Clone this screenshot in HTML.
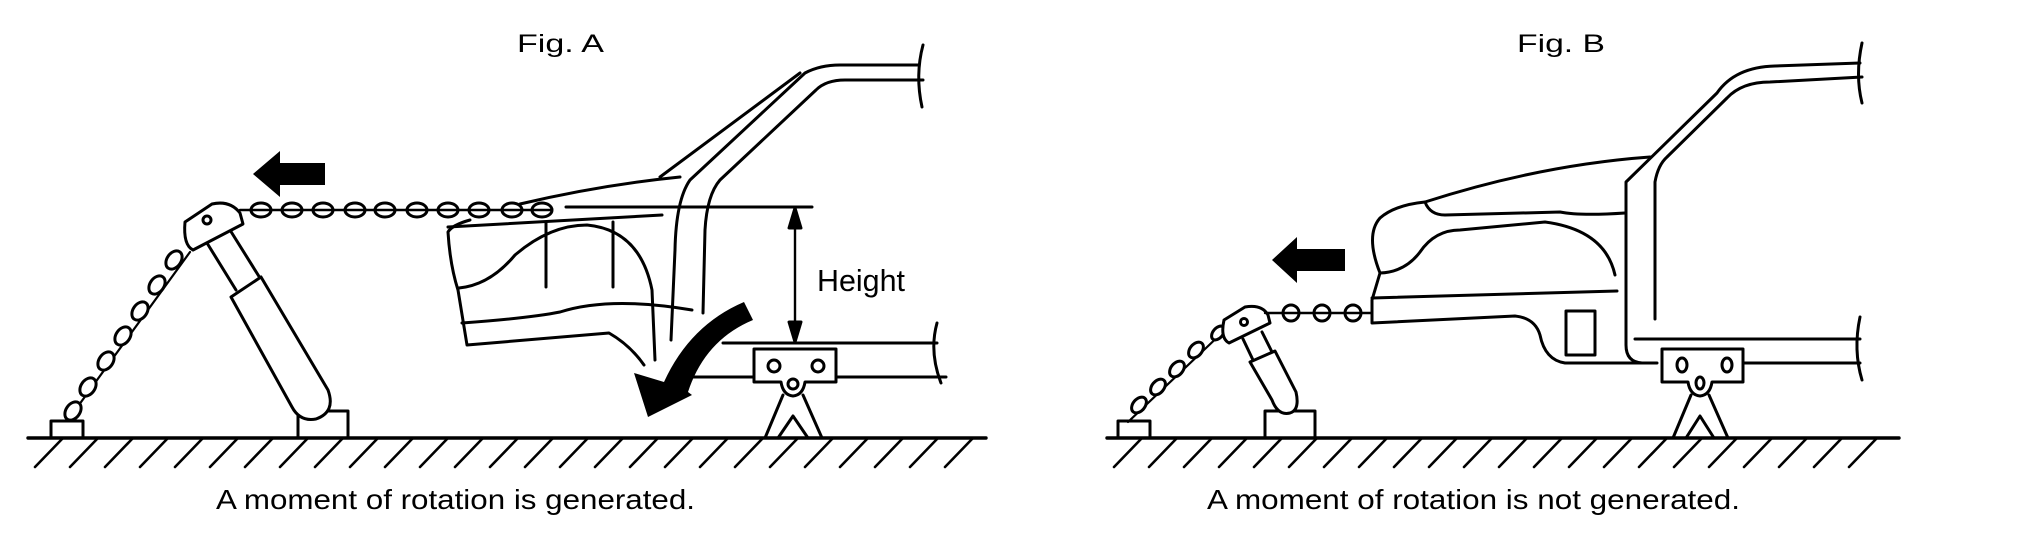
<!DOCTYPE html>
<html><head><meta charset="utf-8"><style>
html,body{margin:0;padding:0;background:#fff;width:2020px;height:544px;overflow:hidden}
svg{display:block}
text{font-family:"Liberation Sans",sans-serif;fill:#000}
</style></head><body>
<svg width="2020" height="544" viewBox="0 0 2020 544" xmlns="http://www.w3.org/2000/svg">
<g fill="none" stroke="#000" stroke-width="3" stroke-linejoin="round" stroke-linecap="round">
<!-- ===== Fig A ===== -->
<line x1="28" y1="438" x2="986" y2="438" stroke-width="3.4"/>
<g stroke-width="2.6">
<path d="M35 467 L63 438 M70 467 L98 438 M105 467 L133 438 M140 467 L168 438 M175 467 L203 438 M210 467 L238 438 M245 467 L273 438 M280 467 L308 438 M315 467 L343 438 M350 467 L378 438 M385 467 L413 438 M420 467 L448 438 M455 467 L483 438 M490 467 L518 438 M525 467 L553 438 M560 467 L588 438 M595 467 L623 438 M630 467 L658 438 M665 467 L693 438 M700 467 L728 438 M735 467 L763 438 M770 467 L798 438 M805 467 L833 438 M840 467 L868 438 M875 467 L903 438 M910 467 L938 438 M945 467 L973 438"/>
</g>
<rect x="51" y="421" width="32" height="17"/>
<rect x="298" y="411" width="50" height="27"/>
<line x1="68" y1="420" x2="190" y2="252" stroke-width="2.2"/>
<g fill="#fff">
<ellipse cx="73" cy="411" rx="7" ry="10" transform="rotate(35 73 411)"/>
<ellipse cx="88" cy="387" rx="7" ry="10" transform="rotate(35 88 387)"/>
<ellipse cx="106" cy="361" rx="7" ry="10" transform="rotate(35 106 361)"/>
<ellipse cx="123" cy="336" rx="7" ry="10" transform="rotate(35 123 336)"/>
<ellipse cx="140" cy="311" rx="7" ry="10" transform="rotate(35 140 311)"/>
<ellipse cx="157" cy="285" rx="7" ry="10" transform="rotate(35 157 285)"/>
<ellipse cx="174" cy="260" rx="7" ry="10" transform="rotate(35 174 260)"/>
</g>
<path d="M207 243 L236 290 M230 230 L260 278"/>
<path d="M231 297 L261 277 L328 390 Q336 412 316 419 Q300 422 292 407 L231 297 Z" fill="#fff"/>
<path d="M185 222 L212 204 Q230 200 240 213 L243 224 L193 250 Q183 245 185 222 Z" fill="#fff"/>
<circle cx="207" cy="220" r="4"/>
<line x1="240" y1="210" x2="552" y2="210" stroke-width="2.4"/>
<g fill="none">
<ellipse cx="261" cy="210" rx="10" ry="7"/><ellipse cx="292" cy="210" rx="10" ry="7"/>
<ellipse cx="323" cy="210" rx="10" ry="7"/><ellipse cx="355" cy="210" rx="10" ry="7"/>
<ellipse cx="385" cy="210" rx="10" ry="7"/><ellipse cx="417" cy="210" rx="10" ry="7"/>
<ellipse cx="448" cy="210" rx="10" ry="7"/><ellipse cx="479" cy="210" rx="10" ry="7"/>
<ellipse cx="512" cy="210" rx="10" ry="7"/><ellipse cx="542" cy="210" rx="10" ry="7"/>
</g>
<path d="M253 174 L280 151 L280 163 L325 163 L325 185 L280 185 L280 197 Z" fill="#000" stroke="none"/>
<!-- car A -->
<path d="M520 204 Q600 185 680 177"/>
<path d="M660 177 L800 73"/>
<path d="M448 227 L662 215"/>
<path d="M470 220 Q452 225 448 232 Q450 265 458 290 L467 345 L609 333 Q630 345 644 365"/>
<path d="M546 222 L546 287 M613 222 L613 287"/>
<path d="M459 288 Q490 285 515 255 Q550 225 587 225 Q640 230 652 290 L655 360"/>
<path d="M462 323 Q530 318 560 312 Q610 296 692 310"/>
<path d="M671 340 L675 250 Q676 200 690 180 L805 73 Q820 65 840 65 L919 65"/>
<path d="M703 313 L705 230 Q707 195 720 180 L816 90 Q826 80 845 80 L923 80"/>
<path d="M923 45 Q915 75 922 107"/>
<line x1="566" y1="207" x2="812" y2="207"/>
<line x1="795" y1="214" x2="795" y2="336" stroke-width="2.4"/>
<path d="M795 208 L789 228 L801 228 Z M795 342 L789 322 L801 322 Z" fill="#000"/>
<text x="817" y="291" font-size="31" stroke="none" textLength="88" lengthAdjust="spacingAndGlyphs">Height</text>
<line x1="723" y1="343" x2="937" y2="343"/>
<line x1="692" y1="377" x2="946" y2="377"/>
<path d="M937 323 Q929 352 941 383"/>
<path d="M744 302 L753 320 Q705 340 688 392 L692 395 L648 417 L634 373 L664 382 Q690 325 744 302 Z" fill="#000" stroke="none"/>
<path d="M783 395 L765 438 M803 395 L822 438 M778 438 L793 416 L808 438"/>
<path d="M754 349 L836 349 L836 382 L805 382 Q803 395 793 396 Q783 395 781 382 L754 382 Z" fill="#fff"/>
<circle cx="774" cy="366" r="6"/><circle cx="818" cy="366" r="6"/><circle cx="793" cy="384" r="5"/>
<!-- ===== Fig B ===== -->
<line x1="1107" y1="438" x2="1899" y2="438" stroke-width="3.4"/>
<g stroke-width="2.6">
<path d="M1114 467 L1142 438 M1149 467 L1177 438 M1184 467 L1212 438 M1219 467 L1247 438 M1254 467 L1282 438 M1289 467 L1317 438 M1324 467 L1352 438 M1359 467 L1387 438 M1394 467 L1422 438 M1429 467 L1457 438 M1464 467 L1492 438 M1499 467 L1527 438 M1534 467 L1562 438 M1569 467 L1597 438 M1604 467 L1632 438 M1639 467 L1667 438 M1674 467 L1702 438 M1709 467 L1737 438 M1744 467 L1772 438 M1779 467 L1807 438 M1814 467 L1842 438 M1849 467 L1877 438"/>
</g>
<rect x="1118" y="421" width="32" height="17"/>
<rect x="1265" y="411" width="50" height="27"/>
<line x1="1128" y1="422" x2="1225" y2="330" stroke-width="2.2"/>
<g fill="#fff">
<ellipse cx="1139" cy="405" rx="6" ry="9" transform="rotate(40 1139 405)"/>
<ellipse cx="1158" cy="387" rx="6" ry="9" transform="rotate(40 1158 387)"/>
<ellipse cx="1177" cy="369" rx="6" ry="9" transform="rotate(40 1177 369)"/>
<ellipse cx="1196" cy="350" rx="6" ry="9" transform="rotate(40 1196 350)"/>
<ellipse cx="1218" cy="333" rx="5" ry="8" transform="rotate(40 1218 333)"/>
</g>
<path d="M1243 339 L1253 360 M1262 332 L1272 352"/>
<path d="M1250 362 L1275 351 L1296 392 Q1300 410 1290 413 Q1278 416 1272 400 Z" fill="#fff"/>
<path d="M1224 320 L1245 307 Q1262 304 1268 315 L1270 323 L1229 343 Q1220 338 1224 320 Z" fill="#fff"/>
<circle cx="1244" cy="322" r="3.5"/>
<line x1="1265" y1="313" x2="1372" y2="313" stroke-width="2.4"/>
<circle cx="1291" cy="313" r="8"/><circle cx="1322" cy="313" r="8"/><circle cx="1353" cy="313" r="8"/>
<path d="M1272 260 L1297 237 L1297 249 L1345 249 L1345 271 L1297 271 L1297 283 Z" fill="#000" stroke="none"/>
<path d="M1380 273 Q1365 235 1380 218 Q1395 205 1425 202 Q1540 165 1650 157"/>
<path d="M1380 273 L1372 300 L1372 323 L1515 316 Q1535 318 1540 335 Q1545 360 1565 363 L1657 363"/>
<path d="M1372 298 L1617 291"/>
<path d="M1425 202 Q1430 215 1445 215 L1560 212 Q1580 216 1625 213"/>
<path d="M1380 273 Q1405 272 1420 252 Q1435 230 1460 230 L1545 222 Q1605 230 1615 275"/>
<rect x="1566" y="311" width="29" height="44"/>
<path d="M1642 363 Q1626 362 1626 345 L1626 182 L1717 93 Q1735 67 1775 66 L1860 63"/>
<path d="M1655 319 L1655 182 Q1658 165 1667 157 L1727 98 Q1742 82 1770 82 L1862 77"/>
<line x1="1635" y1="339" x2="1860" y2="339"/>
<line x1="1742" y1="363" x2="1860" y2="363"/>
<path d="M1862 43 Q1855 75 1862 103"/>
<path d="M1860 317 Q1853 350 1862 380"/>
<path d="M1691 395 L1673 438 M1709 395 L1728 438 M1686 438 L1700 416 L1714 438"/>
<path d="M1662 349 L1743 349 L1743 382 L1712 382 Q1710 395 1700 396 Q1690 395 1688 382 L1662 382 Z" fill="#fff"/>
<ellipse cx="1682" cy="365" rx="5" ry="7"/><ellipse cx="1727" cy="365" rx="5" ry="7"/><ellipse cx="1700" cy="383" rx="4" ry="6"/>
</g>
<text x="517" y="52" font-size="25" textLength="87" lengthAdjust="spacingAndGlyphs">Fig.  A</text>
<text x="1517" y="52" font-size="25" textLength="88" lengthAdjust="spacingAndGlyphs">Fig.  B</text>
<text x="216" y="509" font-size="28" textLength="479" lengthAdjust="spacingAndGlyphs">A moment of rotation is generated.</text>
<text x="1207" y="509" font-size="28" textLength="533" lengthAdjust="spacingAndGlyphs">A moment of rotation is not generated.</text>
</svg>
</body></html>
